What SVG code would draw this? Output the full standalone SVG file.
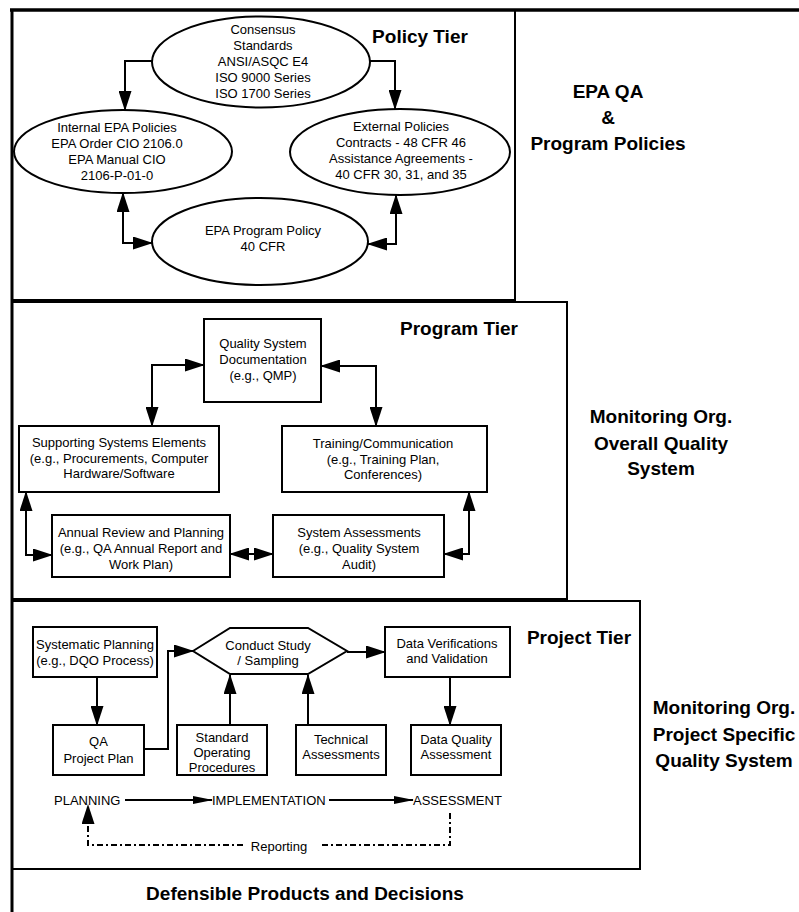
<svg xmlns="http://www.w3.org/2000/svg" width="799" height="912" viewBox="0 0 799 912">
<style>
text{font-family:"Liberation Sans",Arial,sans-serif;fill:#000}
.t{font-size:13px;text-anchor:middle}
.h{font-size:19px;font-weight:bold;text-anchor:middle}
.s{fill:#fff;stroke:#000;stroke-width:2}
.frame{fill:none;stroke:#000;stroke-width:2}
.c{fill:none;stroke:#000;stroke-width:2}
.d{fill:none;stroke:#000;stroke-width:2;stroke-dasharray:6 3 2 3}
</style>
<defs>
<marker id="ah" viewBox="0 0 20 13" markerWidth="20" markerHeight="13" refX="19" refY="6.5" orient="auto-start-reverse" markerUnits="userSpaceOnUse"><path d="M0,0 L20,6.5 L0,13 Z" fill="#000"/></marker>
<marker id="ah2" viewBox="0 0 20 8" markerWidth="20" markerHeight="8" refX="19" refY="4" orient="auto-start-reverse" markerUnits="userSpaceOnUse"><path d="M0,0 L20,4 L0,8 Z" fill="#000"/></marker>
</defs>
<rect width="799" height="912" fill="#fff"/>

<g id="frames">
<line x1="10" y1="10" x2="799" y2="10" stroke="#000" stroke-width="3.5"/>
<line x1="12" y1="9" x2="12" y2="912" stroke="#000" stroke-width="3"/>
<path class="frame" d="M12,300 H515 V10"/>
<path class="frame" d="M12,302 H567 V599 H12"/>
<path class="frame" d="M12,601 H640 V869 H12"/>
</g>

<g id="labels">
<text class="h" x="420" y="43">Policy Tier</text>
<text class="h" x="459" y="335">Program Tier</text>
<text class="h" x="579" y="644">Project Tier</text>
<text class="h" x="608" y="98">EPA QA</text>
<text class="h" x="608" y="124">&amp;</text>
<text class="h" x="608" y="150">Program Policies</text>
<text class="h" x="661" y="423">Monitoring Org.</text>
<text class="h" x="661" y="450">Overall Quality</text>
<text class="h" x="661" y="475">System</text>
<text class="h" x="724" y="714">Monitoring Org.</text>
<text class="h" x="724" y="741">Project Specific</text>
<text class="h" x="724" y="767">Quality System</text>
<text class="h" x="305" y="900">Defensible Products and Decisions</text>
</g>

<g id="connectors">
<path class="c" d="M152,61 H125 V110" marker-end="url(#ah)"/>
<path class="c" d="M370,61 H395 V109" marker-end="url(#ah)"/>
<path class="c" d="M123,193 V243 H152" marker-start="url(#ah)" marker-end="url(#ah)"/>
<path class="c" d="M396,195 V244 H368" marker-start="url(#ah)" marker-end="url(#ah)"/>
<path class="c" d="M204,365 H152 V426" marker-start="url(#ah)" marker-end="url(#ah)"/>
<path class="c" d="M321,366 H376 V426" marker-start="url(#ah)" marker-end="url(#ah)"/>
<path class="c" d="M26,492 V555 H52" marker-start="url(#ah)" marker-end="url(#ah)"/>
<path class="c" d="M230,554 H273" marker-start="url(#ah)" marker-end="url(#ah)"/>
<path class="c" d="M444,554 H469 V492" marker-start="url(#ah)" marker-end="url(#ah)"/>
<path class="c" d="M97,677 V725" marker-end="url(#ah)"/>
<path class="c" d="M144,749 H168 V651 H193" marker-end="url(#ah)"/>
<path class="c" d="M230,725 V675" marker-end="url(#ah)"/>
<path class="c" d="M308,725 V675" marker-end="url(#ah)"/>
<path class="c" d="M347,652 H385" marker-end="url(#ah)"/>
<path class="c" d="M450,677 V725" marker-end="url(#ah)"/>
<path class="c" d="M125,800 H212" marker-end="url(#ah2)"/>
<path class="c" d="M329,800 H413" marker-end="url(#ah2)"/>
<path class="d" d="M243,845 H88 V805" marker-end="url(#ah)"/>
<path class="d" d="M322,845 H450 V812"/>
</g>

<g id="consensus">
<ellipse class="s" cx="261" cy="62" rx="109" ry="45.5"/>
<text class="t" x="263" y="34">Consensus</text>
<text class="t" x="263" y="50">Standards</text>
<text class="t" x="263" y="66">ANSI/ASQC E4</text>
<text class="t" x="263" y="82">ISO 9000 Series</text>
<text class="t" x="263" y="98">ISO 1700 Series</text>
</g>
<g id="internal">
<ellipse class="s" cx="123" cy="151.5" rx="109" ry="41.5"/>
<text class="t" x="117" y="132">Internal EPA Policies</text>
<text class="t" x="117" y="148">EPA Order CIO 2106.0</text>
<text class="t" x="117" y="164">EPA Manual CIO</text>
<text class="t" x="117" y="180">2106-P-01-0</text>
</g>
<g id="external">
<ellipse class="s" cx="400" cy="152" rx="110" ry="43"/>
<text class="t" x="401" y="131">External Policies</text>
<text class="t" x="401" y="147">Contracts - 48 CFR 46</text>
<text class="t" x="401" y="163">Assistance Agreements -</text>
<text class="t" x="401" y="179">40 CFR 30, 31, and 35</text>
</g>
<g id="program-policy">
<ellipse class="s" cx="260" cy="241.5" rx="108" ry="43.5"/>
<text class="t" x="263" y="234.5">EPA Program Policy</text>
<text class="t" x="263" y="251">40 CFR</text>
</g>

<g id="qsd">
<rect class="s" x="204" y="319" width="117" height="83"/>
<text class="t" x="263" y="348">Quality System</text>
<text class="t" x="263" y="364">Documentation</text>
<text class="t" x="263" y="380">(e.g., QMP)</text>
</g>
<g id="supporting">
<rect class="s" x="19" y="426" width="200" height="66"/>
<text class="t" x="119" y="447">Supporting Systems Elements</text>
<text class="t" x="119" y="463">(e.g., Procurements, Computer</text>
<text class="t" x="119" y="478">Hardware/Software</text>
</g>
<g id="training">
<rect class="s" x="282" y="426" width="205" height="66"/>
<text class="t" x="383" y="448">Training/Communication</text>
<text class="t" x="383" y="464">(e.g., Training Plan,</text>
<text class="t" x="383" y="479">Conferences)</text>
</g>
<g id="annual">
<rect class="s" x="52" y="515" width="178" height="62"/>
<text class="t" x="141" y="537">Annual Review and Planning</text>
<text class="t" x="141" y="553">(e.g., QA Annual Report and</text>
<text class="t" x="141" y="569">Work Plan)</text>
</g>
<g id="sysassess">
<rect class="s" x="273" y="515" width="171" height="62"/>
<text class="t" x="359" y="537">System Assessments</text>
<text class="t" x="359" y="553">(e.g., Quality System</text>
<text class="t" x="359" y="569">Audit)</text>
</g>

<g id="sysplan">
<rect class="s" x="33" y="627" width="124" height="50"/>
<text class="t" x="95" y="648.5">Systematic Planning</text>
<text class="t" x="95" y="664.5">(e.g., DQO Process)</text>
</g>
<g id="qapp">
<rect class="s" x="53" y="725" width="91" height="50"/>
<text class="t" x="98.5" y="745.5">QA</text>
<text class="t" x="98.5" y="762.5">Project Plan</text>
</g>
<g id="conduct">
<polygon class="s" points="193,651 230,628 308,628 347,651 308,674 230,674"/>
<text class="t" x="268" y="650">Conduct Study</text>
<text class="t" x="268" y="665">/ Sampling</text>
</g>
<g id="sop">
<rect class="s" x="177" y="725" width="90" height="50"/>
<text class="t" x="222" y="742">Standard</text>
<text class="t" x="222" y="757">Operating</text>
<text class="t" x="222" y="772">Procedures</text>
</g>
<g id="technical">
<rect class="s" x="296" y="725" width="90" height="50"/>
<text class="t" x="341" y="744">Technical</text>
<text class="t" x="341" y="759">Assessments</text>
</g>
<g id="dv">
<rect class="s" x="385" y="627" width="125" height="50"/>
<text class="t" x="447" y="648">Data Verifications</text>
<text class="t" x="447" y="663">and Validation</text>
</g>
<g id="dqa">
<rect class="s" x="411" y="725" width="90" height="50"/>
<text class="t" x="456" y="744">Data Quality</text>
<text class="t" x="456" y="759">Assessment</text>
</g>
<g id="phases">
<text x="54" y="805" style="font-size:13px">PLANNING</text>
<text x="212" y="805" style="font-size:13px">IMPLEMENTATION</text>
<text x="413" y="805" style="font-size:13px">ASSESSMENT</text>
<text class="t" x="279" y="851">Reporting</text>
</g>
</svg>
